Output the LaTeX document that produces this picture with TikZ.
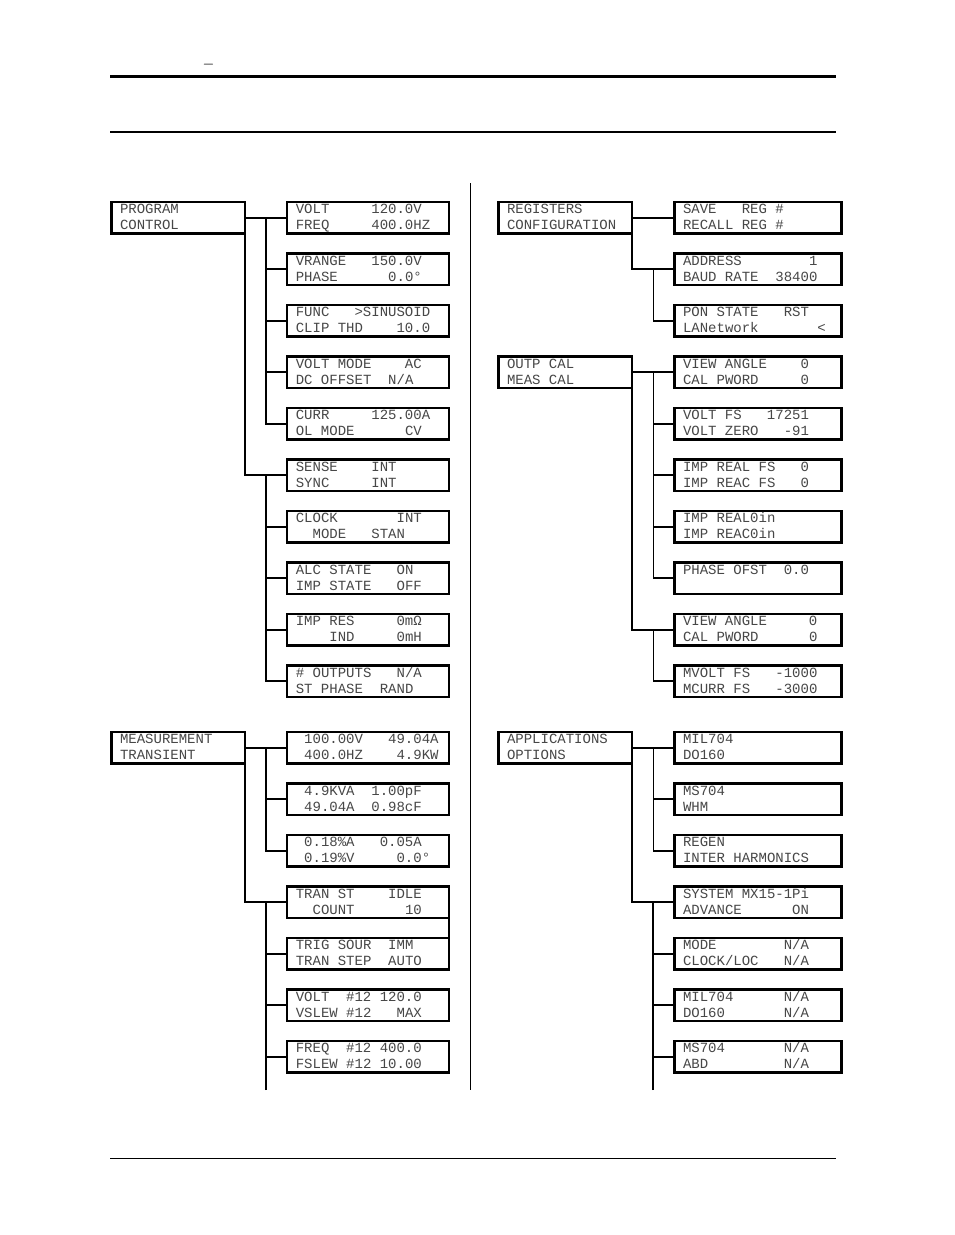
\documentclass[tikz,border=0pt]{standalone}
\usepackage{fontspec}
\setmonofont{Liberation Mono}
\usetikzlibrary{positioning}

\begin{document}
\begin{tikzpicture}[
  x=1pt, y=-1pt,
  node distance=20pt,
  menu/.style={rectangle, draw=black, line width=2.3pt, outer sep=0pt, anchor=north west, minimum width=133.5pt, minimum height=31.5pt, text width=116.5pt, inner xsep=8.5pt, inner ysep=0pt, text height=9pt, text depth=16.6pt, text=black!72, font=\ttfamily\fontsize{14pt}{15.7pt}\selectfont, execute at begin node={\spaceskip=8.4pt\xspaceskip=8.4pt\relax}},
  screen/.style={menu, minimum width=162pt, text width=145pt},
  wscreen/.style={menu, minimum width=167pt, text width=150pt},
  link/.style={line width=1.8pt},
  hrule/.style={line width=#1}
]
\fill[white] (0,0) rectangle (954,1235);
\useasboundingbox (0,0) rectangle (954,1235);

% page header and footer
\node[text=black!55, font=\sffamily\bfseries\fontsize{17pt}{18pt}\selectfont, anchor=base] (hdash) at (208.5,69) {–};
\draw[hrule=3pt] (110,76) -- (836,76);
\draw[hrule=2.5pt] (110,132) -- (836,132);
\draw[hrule=1pt] (110,1158) -- (836,1158);
\draw[hrule=1pt] (470,183) -- (470,1090);

% left column
\node[menu] (pc) at (111.5,202) {PROGRAM\\CONTROL};
\node[screen] (pc1) at (287.3,202) {VOLT~~~~~120.0V\\FREQ~~~~~400.0HZ};
\node[screen, below=of pc1] (pc2) {VRANGE~~~150.0V\\PHASE~~~~~~0.0°};
\node[screen, below=of pc2] (pc3) {FUNC~~~>SINUSOID\\CLIP THD~~~~10.0};
\node[screen, below=of pc3] (pc4) {VOLT MODE~~~~AC\\DC OFFSET~~N/A};
\node[screen, below=of pc4] (pc5) {CURR~~~~~125.00A\\OL MODE~~~~~~CV};
\node[screen, below=of pc5] (pc6) {SENSE~~~~INT\\SYNC~~~~~INT};
\node[screen, below=of pc6] (pc7) {CLOCK~~~~~~~INT\\~~MODE~~~STAN};
\node[screen, below=of pc7] (pc8) {ALC STATE~~~ON\\IMP STATE~~~OFF};
\node[screen, below=of pc8] (pc9) {IMP RES~~~~~0mΩ\\~~~~IND~~~~~0mH};
\node[screen, below=of pc9] (pc10) {\#~OUTPUTS~~~N/A\\ST PHASE~~RAND};

\node[menu] (mt) at (111.5,732) {MEASUREMENT\\TRANSIENT};
\node[screen] (mt1) at (287.3,732) {~100.00V~~~49.04A\\~400.0HZ~~~~4.9KW};
\node[screen, below=of mt1] (mt2) {~4.9KVA~~1.00pF\\~49.04A~~0.98cF};
\node[screen, below=of mt2] (mt3) {~0.18\%A~~~0.05A\\~0.19\%V~~~~~0.0°};
\node[screen, below=of mt3] (mt4) {TRAN ST~~~~IDLE\\~~COUNT~~~~~~10};
\node[screen, below=of mt4] (mt5) {TRIG SOUR~~IMM\\TRAN STEP~~AUTO};
\node[screen, below=of mt5] (mt6) {VOLT~~\#12 120.0\\VSLEW \#12~~~MAX};
\node[screen, below=of mt6] (mt7) {FREQ~~\#12 400.0\\FSLEW \#12 10.00};
\coordinate (mtend) at (266.2,1090);

% right column
\node[menu] (rc) at (498.5,202) {REGISTERS\\CONFIGURATION};
\node[wscreen] (rc1) at (674.5,202) {SAVE~~~REG \#\\RECALL REG \#};
\node[wscreen, below=of rc1] (rc2) {ADDRESS~~~~~~~~1\\BAUD RATE~~38400};
\node[wscreen, below=of rc2] (rc3) {PON STATE~~~RST\\LANetwork~~~~~~~<};

\node[menu] (cal) at (498.5,356.5) {OUTP CAL\\MEAS CAL};
\node[wscreen] (cal1) at (674.5,356.5) {VIEW ANGLE~~~~0\\CAL PWORD~~~~~0};
\node[wscreen, below=of cal1] (cal2) {VOLT FS~~~17251\\VOLT ZERO~~~-91};
\node[wscreen, below=of cal2] (cal3) {IMP REAL FS~~~0\\IMP REAC FS~~~0};
\node[wscreen, below=of cal3] (cal4) {IMP REAL0in\\IMP REAC0in};
\node[wscreen, below=of cal4] (cal5) {PHASE OFST~~0.0};
\node[wscreen, below=of cal5] (cal6) {VIEW ANGLE~~~~~0\\CAL PWORD~~~~~~0};
\node[wscreen, below=of cal6] (cal7) {MVOLT FS~~~-1000\\MCURR FS~~~-3000};

\node[menu] (ao) at (498.5,732) {APPLICATIONS\\OPTIONS};
\node[wscreen] (ao1) at (674.5,732) {MIL704\\DO160};
\node[wscreen, below=of ao1] (ao2) {MS704\\WHM};
\node[wscreen, below=of ao2] (ao3) {REGEN\\INTER HARMONICS};
\node[wscreen, below=of ao3] (ao4) {SYSTEM MX15-1Pi\\ADVANCE~~~~~~ON};
\node[wscreen, below=of ao4] (ao5) {MODE~~~~~~~~N/A\\CLOCK/LOC~~~N/A};
\node[wscreen, below=of ao5] (ao6) {MIL704~~~~~~N/A\\DO160~~~~~~~N/A};
\node[wscreen, below=of ao6] (ao7) {MS704~~~~~~~N/A\\ABD~~~~~~~~~N/A};
\coordinate (aoend) at (653.3,1090);

% connectors, left
\draw[link] (pc.east) -- (pc1.west);
\draw[link] (pc5.west) -- ++(-21,0) |- (pc1.west);
\draw[link] (pc2.west) -- ++(-21,0);
\draw[link] (pc3.west) -- ++(-21,0);
\draw[link] (pc4.west) -- ++(-21,0);
\draw[link] (pc.south east) |- (pc6.west);
\draw[link] (pc10.west) -- ++(-21,0) |- (pc6.west);
\draw[link] (pc7.west) -- ++(-21,0);
\draw[link] (pc8.west) -- ++(-21,0);
\draw[link] (pc9.west) -- ++(-21,0);

\draw[link] (mt.east) -- (mt1.west);
\draw[link] (mt3.west) -- ++(-21,0) |- (mt1.west);
\draw[link] (mt2.west) -- ++(-21,0);
\draw[link] (mt.south east) |- (mt4.west);
\draw[link] (mtend) |- (mt4.west);
\draw[link] (mt5.west) -- ++(-21,0);
\draw[link] (mt6.west) -- ++(-21,0);
\draw[link] (mt7.west) -- ++(-21,0);
\draw[link] (mt4.south east) -- (mt5.north east);

% connectors, right
\draw[link] (rc.east) -- (rc1.west);
\draw[link] (rc.south east) |- (rc2.west);
\draw[link] (rc3.west) -- ++(-21,0) |- (rc2.west);

\draw[link] (cal.east) -- (cal1.west);
\draw[link] (cal5.west) -- ++(-21,0) |- (cal1.west);
\draw[link] (cal2.west) -- ++(-21,0);
\draw[link] (cal3.west) -- ++(-21,0);
\draw[link] (cal4.west) -- ++(-21,0);
\draw[link] (cal.south east) |- (cal6.west);
\draw[link] (cal7.west) -- ++(-21,0) |- (cal6.west);

\draw[link] (ao.east) -- (ao1.west);
\draw[link] (ao3.west) -- ++(-21,0) |- (ao1.west);
\draw[link] (ao2.west) -- ++(-21,0);
\draw[link] (ao.south east) |- (ao4.west);
\draw[link] (aoend) |- (ao4.west);
\draw[link] (ao5.west) -- ++(-21,0);
\draw[link] (ao6.west) -- ++(-21,0);
\draw[link] (ao7.west) -- ++(-21,0);
\end{tikzpicture}
\end{document}
